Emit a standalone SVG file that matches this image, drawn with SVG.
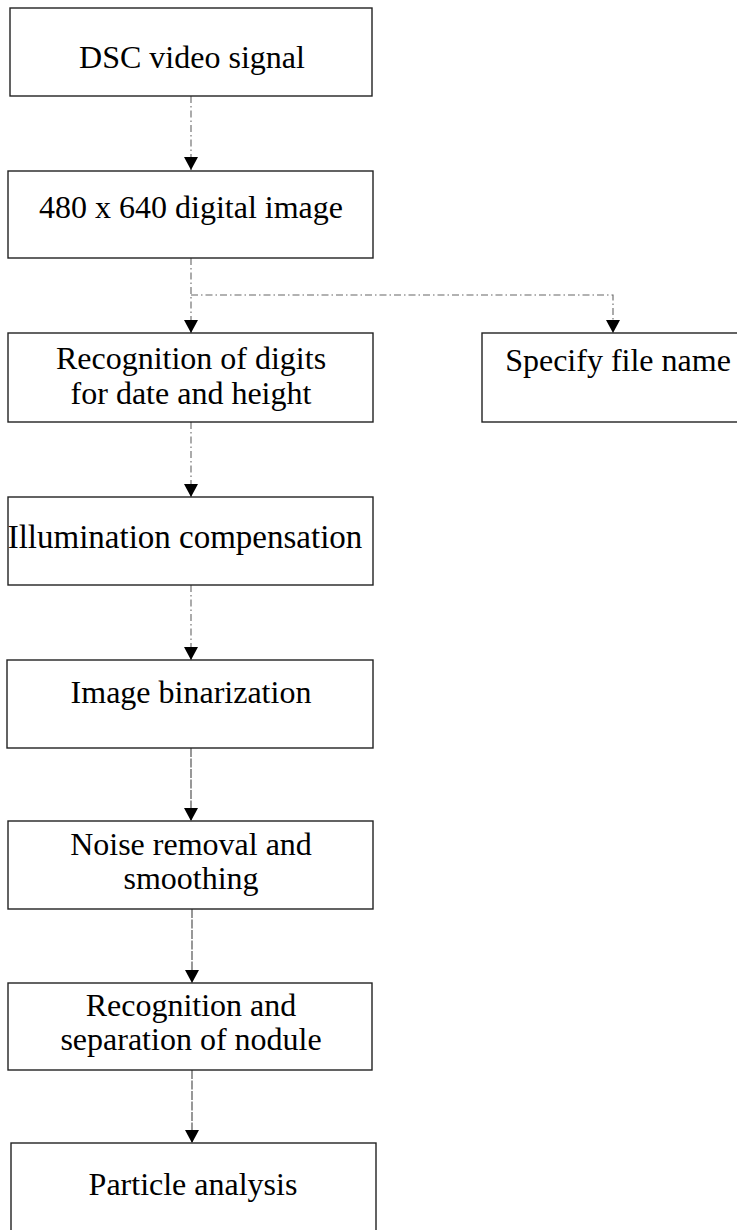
<svg xmlns="http://www.w3.org/2000/svg" width="737" height="1230" viewBox="0 0 737 1230">
<style>
.box{fill:#fff;stroke:#222;stroke-width:1.4}
.t{font-family:"Liberation Serif","Times New Roman",serif;font-size:32px;fill:#000;text-anchor:middle}
.c{fill:none;stroke:#666;stroke-width:1.1;stroke-dasharray:7,3,1.5,3}
.s{fill:none;stroke:#444;stroke-width:1.1;stroke-dasharray:9,1.5}
</style>
<defs>
<marker id="ah" viewBox="0 0 13 14" refX="13" refY="7" markerWidth="13" markerHeight="14" markerUnits="userSpaceOnUse" orient="auto">
<path d="M0,0 L13,7 L0,14 z" fill="#000"/>
</marker>
</defs>
<rect width="737" height="1230" fill="#fff"/>
<g id="connectors">
<path class="c" d="M191,96 V170" marker-end="url(#ah)"/>
<path class="c" d="M191,258 V333" marker-end="url(#ah)"/>
<path class="c" d="M191,295 H613 V333" marker-end="url(#ah)"/>
<path class="c" d="M191,422 V497" marker-end="url(#ah)"/>
<path class="c" d="M191,585 V660" marker-end="url(#ah)"/>
<path class="s" d="M191,748 V821" marker-end="url(#ah)"/>
<path class="s" d="M192,909 V983" marker-end="url(#ah)"/>
<path class="s" d="M192,1070 V1143" marker-end="url(#ah)"/>
</g>
<g id="n1"><rect class="box" x="10" y="8" width="362" height="88"/><text class="t" x="192" y="68">DSC video signal</text></g>
<g id="n2"><rect class="box" x="8" y="171" width="365" height="87"/><text class="t" x="191" y="218">480 x 640 digital image</text></g>
<g id="n3"><rect class="box" x="8" y="333" width="365" height="89"/><text class="t" x="191" y="369">Recognition of digits</text><text class="t" x="191" y="404">for date and height</text></g>
<g id="n4"><rect class="box" x="482" y="333" width="270" height="89"/><text class="t" x="618" y="371">Specify file name</text></g>
<g id="n5"><rect class="box" x="8" y="497" width="365" height="88"/><text class="t" x="185" y="548" style="font-size:33px">Illumination compensation</text></g>
<g id="n6"><rect class="box" x="7" y="660" width="366" height="88"/><text class="t" x="191" y="703">Image binarization</text></g>
<g id="n7"><rect class="box" x="8" y="821" width="365" height="88"/><text class="t" x="191" y="855">Noise removal and</text><text class="t" x="191" y="889">smoothing</text></g>
<g id="n8"><rect class="box" x="8" y="983" width="364" height="87"/><text class="t" x="191" y="1016">Recognition and</text><text class="t" x="191" y="1050">separation of nodule</text></g>
<g id="n9"><rect class="box" x="11" y="1143" width="365" height="100"/><text class="t" x="193" y="1195">Particle analysis</text></g>
</svg>
